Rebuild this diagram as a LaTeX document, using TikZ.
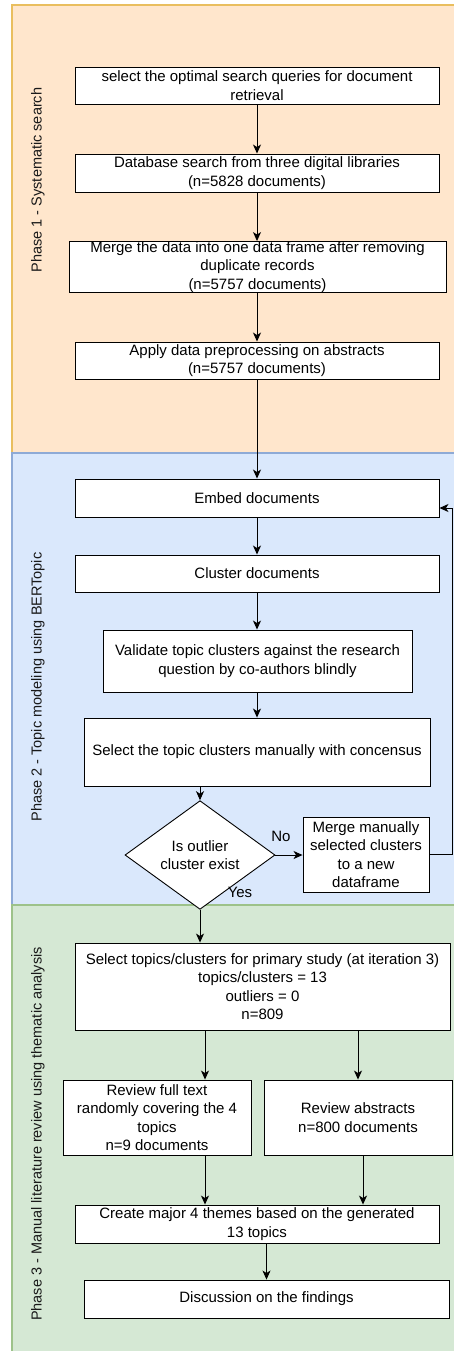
\documentclass[tikz,border=0pt]{standalone}
\usepackage{fontspec}
\setmainfont{Liberation Sans}
\usetikzlibrary{shapes.geometric,arrows.meta,calc}
\definecolor{p1fill}{HTML}{FFE6CC}
\definecolor{p1line}{HTML}{E9BE5E}
\definecolor{p2fill}{HTML}{DAE8FC}
\definecolor{p2line}{HTML}{8EAAD6}
\definecolor{p3fill}{HTML}{D5E8D4}
\definecolor{p3line}{HTML}{9DC28A}
\tikzset{
  box/.style={draw=black, fill=white, line width=0.9pt, align=center, inner sep=1pt,
    font=\fontsize{15}{18.5}\selectfont},
  dec/.style={draw=black, fill=white, line width=0.9pt, align=center, inner sep=0pt,
    shape=diamond, minimum width=150pt, minimum height=74pt,
    font=\fontsize{15}{18.5}\selectfont},
  arr/.style={draw=black, line width=0.9pt, -{Stealth[length=9pt,width=8pt,inset=2.5pt]}},
  phaselabel/.style={rotate=90, font=\fontsize{14.5}{17}\selectfont, text=black!90},
  lbl/.style={font=\fontsize{15}{18}\selectfont}
}
\begin{document}
\begin{tikzpicture}[x=1pt,y=-1pt]
\useasboundingbox (0,0) rectangle (454,1351);
\begin{scope}
\clip (0,0) rectangle (454,1351);
% panels
\path[fill=p1fill, draw=p1line, line width=1.5pt] (12,5) rectangle (470,453);
\path[fill=p2fill, draw=p2line, line width=1.5pt] (12,453) rectangle (470,905);
\path[fill=p3fill, draw=p3line, line width=1.5pt] (12,905) rectangle (470,1370);
\end{scope}
% phase labels
\node[phaselabel] (ph1) at (38,180) {Phase 1 - Systematic search};
\node[phaselabel] (ph2) at (38,687) {Phase 2 - Topic modeling using BERTopic};
\node[phaselabel] (ph3) at (38,1134) {Phase 3 - Manual literature review using thematic analysis};
% boxes
\node[box, minimum width=364pt, minimum height=37pt] (b1) at (257,85.5)
  {select the optimal search queries for document\\retrieval};
\node[box, minimum width=364pt, minimum height=38pt] (b2) at (257,173)
  {Database search from three digital libraries\\(n=5828 documents)};
\node[box, minimum width=377pt, minimum height=50pt, inner sep=0pt] (b3) at (257.5,267)
  {Merge the data into one data frame after removing\\duplicate records\\(n=5757 documents)};
\node[box, minimum width=364pt, minimum height=37pt] (b4) at (257,360.5)
  {Apply data preprocessing on abstracts\\(n=5757 documents)};
\node[box, minimum width=364pt, minimum height=38pt] (embed) at (257,498)
  {Embed documents};
\node[box, minimum width=364pt, minimum height=37pt] (clus) at (257,573.5)
  {Cluster documents};
\node[box, minimum width=309pt, minimum height=62pt] (valid) at (257.5,661)
  {Validate topic clusters against the research\\question by co-authors blindly};
\node[box, minimum width=346pt, minimum height=68pt] (selman) at (257,752)
  {Select the topic clusters manually with concensus};
\node[dec] (dia) at (200,855) {Is outlier\\cluster exist};
\node[box, minimum width=126pt, minimum height=75pt] (merge) at (366,854.5)
  {Merge manually\\selected clusters\\to a new\\dataframe};
\node[box, minimum width=375pt, minimum height=87pt] (seltop) at (262.5,986.5)
  {Select topics/clusters for primary study (at iteration 3)\\topics/clusters = 13\\outliers = 0\\n=809};
\node[box, minimum width=188pt, minimum height=75pt] (revfull) at (157,1117.5)
  {Review full text\\randomly covering the 4\\topics\\n=9 documents};
\node[box, minimum width=188pt, minimum height=75pt] (revabs) at (358,1117.5)
  {Review abstracts\\n=800 documents};
\node[box, minimum width=364pt, minimum height=38pt] (create) at (257,1224)
  {Create major 4 themes based on the generated\\13 topics};
\node[box, minimum width=365pt, minimum height=38pt] (disc) at (266.5,1299)
  {Discussion on the findings};
% connectors
\draw[arr] (b1.south) -- (b1.south |- b2.north);
\draw[arr] (b2.south) -- (b2.south |- b3.north);
\draw[arr] (b2.south |- b3.south) -- (b2.south |- b4.north);
\draw[arr] (b4.south) -- (b4.south |- embed.north);
\draw[arr] (embed.south) -- (clus.north);
\draw[arr] (clus.south) -- (clus.south |- valid.north);
\draw[arr] (clus.south |- valid.south) -- (clus.south |- selman.north);
\draw[arr] (dia.north |- selman.south) -- (dia.north);
\draw[arr] (dia.east) -- (merge.west |- dia.east);
\node[lbl] (no) at (281,836) {No};
\draw[arr] (merge.east) -- ++(23,0) |- ([yshift=-10pt]embed.east);
\draw[arr] (dia.south) -- (dia.south |- seltop.north);
\node[lbl] (yes) at (240,892) {Yes};
\draw[arr] ([xshift=-57.5pt]seltop.south) -- ([xshift=-57.5pt]seltop.south |- revfull.north);
\draw[arr] (revabs.north |- seltop.south) -- (revabs.north);
\draw[arr] ([xshift=48pt]revfull.south) -- ([xshift=48pt]revfull.south |- create.north);
\draw[arr] ([xshift=5pt]revabs.south) -- ([xshift=5pt]revabs.south |- create.north);
\draw[arr] (disc.north |- create.south) -- (disc.north);
\end{tikzpicture}
\end{document}
